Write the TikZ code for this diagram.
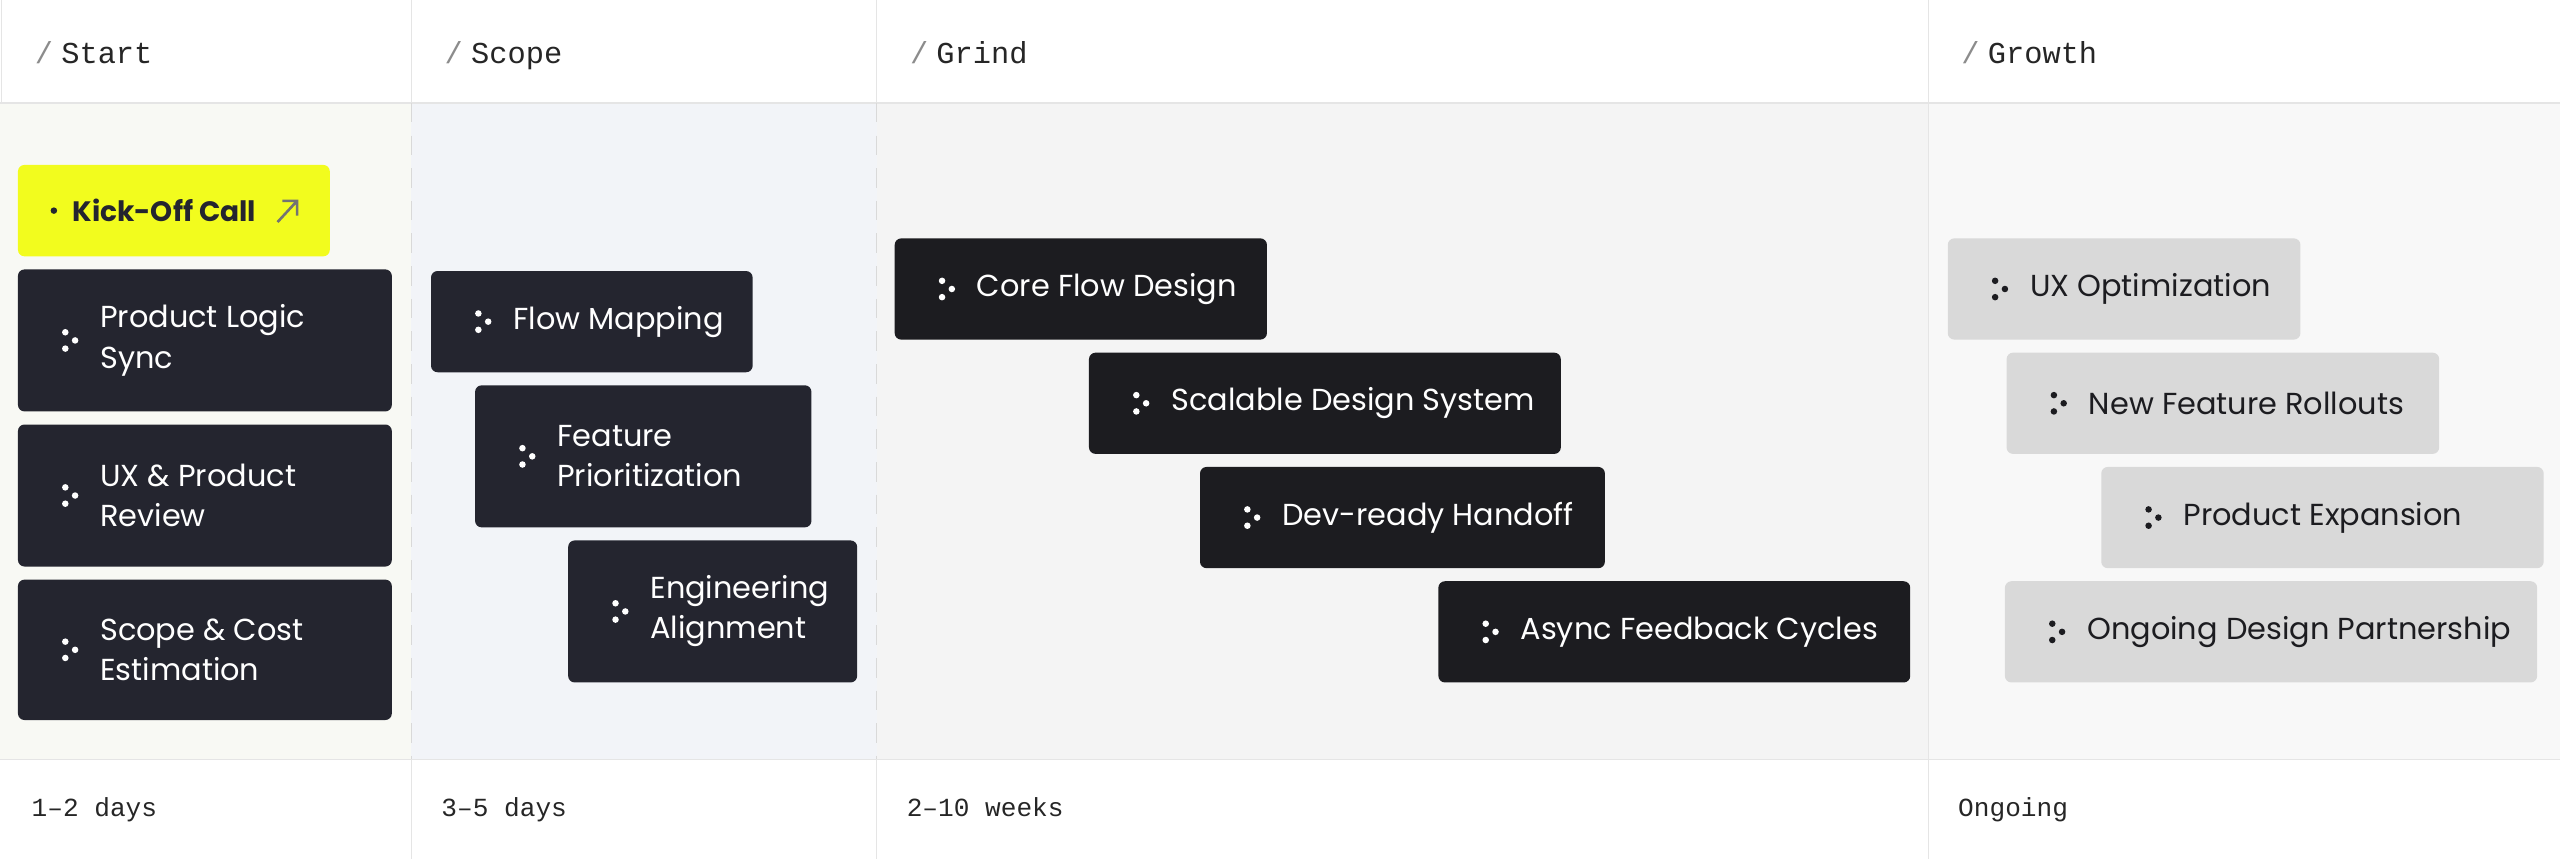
\documentclass[tikz,border=0pt]{standalone}
\usepackage{fontspec}
\setmainfont{Poppins}
\setmonofont{Liberation Mono}
\begin{document}
\begin{tikzpicture}[x=0.5pt,y=-0.5pt,
  dk/.style={fill=boxdark,rounded corners=2pt},
  dk2/.style={fill=boxblack,rounded corners=2pt},
  lt/.style={fill=boxlight,rounded corners=2pt},
  lbl/.style={anchor=west,align=left,font=\fontsize{9.3}{12.3}\selectfont,inner sep=0pt},
  hdr/.style={anchor=base west,font=\ttfamily\fontsize{9.3}{11}\selectfont,text=black!85,inner sep=0pt},
  ftr/.style={hdr,font=\ttfamily\fontsize{8}{10}\selectfont},
  sep/.style={draw=black!10,line width=0.4pt}]
\definecolor{boxdark}{HTML}{24252F}
\definecolor{boxblack}{HTML}{1C1C20}
\definecolor{boxlight}{HTML}{D9D9D9}
\definecolor{kick}{HTML}{F2FC1E}
\definecolor{bgA}{HTML}{F8F9F4}
\definecolor{bgB}{HTML}{F2F4F8}
\definecolor{bgC}{HTML}{F4F4F4}
\definecolor{bgD}{HTML}{F8F8F8}
\useasboundingbox (0,0) rectangle (1568,526);
\fill[white] (0,0) rectangle (1568,526);
\fill[bgA] (0,63) rectangle (252,465);
\fill[bgB] (252,63) rectangle (537,465);
\fill[bgC] (537,63) rectangle (1181,465);
\fill[bgD] (1181,63) rectangle (1568,465);
\draw[sep] (0,63) -- (1568,63) (0,465) -- (1568,465);
\draw[sep] (252,0) -- (252,63) (537,0) -- (537,63) (1181,0) -- (1181,526) (252,465)--(252,526) (537,465)--(537,526);
\draw[sep,draw=black!15,dash pattern=on 6pt off 4pt] (252,63) -- (252,465) (537,63) -- (537,465);
\draw[sep] (1,0)--(1,63);
% headers
\node[hdr] (h1) at (21,39) {\textcolor{black!45}{/}\hspace{2.5pt}Start};
\node[hdr] (h2) at (272,39) {\textcolor{black!45}{/}\hspace{2.5pt}Scope};
\node[hdr] (h3) at (557,39) {\textcolor{black!45}{/}\hspace{2.5pt}Grind};
\node[hdr] (h4) at (1201,39) {\textcolor{black!45}{/}\hspace{2.5pt}Growth};
\node[ftr] (f1) at (19,500) {1–2 days};
\node[ftr] (f2) at (270,500) {3–5 days};
\node[ftr] (f3) at (555,500) {2–10 weeks};
\node[ftr] (f4) at (1199,500) {Ongoing};
\newcommand{\stepbox}[8]{%
  \fill[#6] (#2,#3) rectangle (#4,#5);
  \fill[#7] ({#2+29},{(#3+#5)/2-5}) circle (2) ({#2+29},{(#3+#5)/2+5}) circle (2) ({#2+35},{(#3+#5)/2}) circle (2);
  \node[lbl,text=#7] (#1) at ({#2+50},{(#3+#5)/2}) {#8};}
% kick-off
\fill[kick,rounded corners=2pt] (11,101) rectangle (202,157);
\fill[boxdark] (33,129) circle (2);
\node[lbl,text=boxdark,font=\fontsize{8.6}{12}\selectfont\bfseries] (kick) at (44,129) {Kick-Off Call};
\draw[black!55,line width=0.8pt] (170,136) -- (182,123) (173,123) -- (182,123) -- (182,132);
\stepbox{a1}{11}{165}{240}{252}{dk}{white}{Product Logic\\Sync}
\stepbox{a2}{11}{260}{240}{347}{dk}{white}{UX \& Product\\Review}
\stepbox{a3}{11}{355}{240}{441}{dk}{white}{Scope \& Cost\\Estimation}
\stepbox{b1}{264}{166}{461}{228}{dk}{white}{Flow Mapping}
\stepbox{b2}{291}{236}{497}{323}{dk}{white}{Feature\\Prioritization}
\stepbox{b3}{348}{331}{525}{418}{dk}{white}{Engineering\\Alignment}
\stepbox{c1}{548}{146}{776}{208}{dk2}{white}{Core Flow Design}
\stepbox{c2}{667}{216}{956}{278}{dk2}{white}{Scalable Design System}
\stepbox{c3}{735}{286}{983}{348}{dk2}{white}{Dev-ready Handoff}
\stepbox{c4}{881}{356}{1170}{418}{dk2}{white}{Async Feedback Cycles}
\stepbox{d1}{1193}{146}{1409}{208}{lt}{boxblack}{UX Optimization}
\stepbox{d2}{1229}{216}{1494}{278}{lt}{boxblack}{New Feature Rollouts}
\stepbox{d3}{1287}{286}{1558}{348}{lt}{boxblack}{Product Expansion}
\stepbox{d4}{1228}{356}{1554}{418}{lt}{boxblack}{Ongoing Design Partnership}
\end{tikzpicture}
\end{document}
